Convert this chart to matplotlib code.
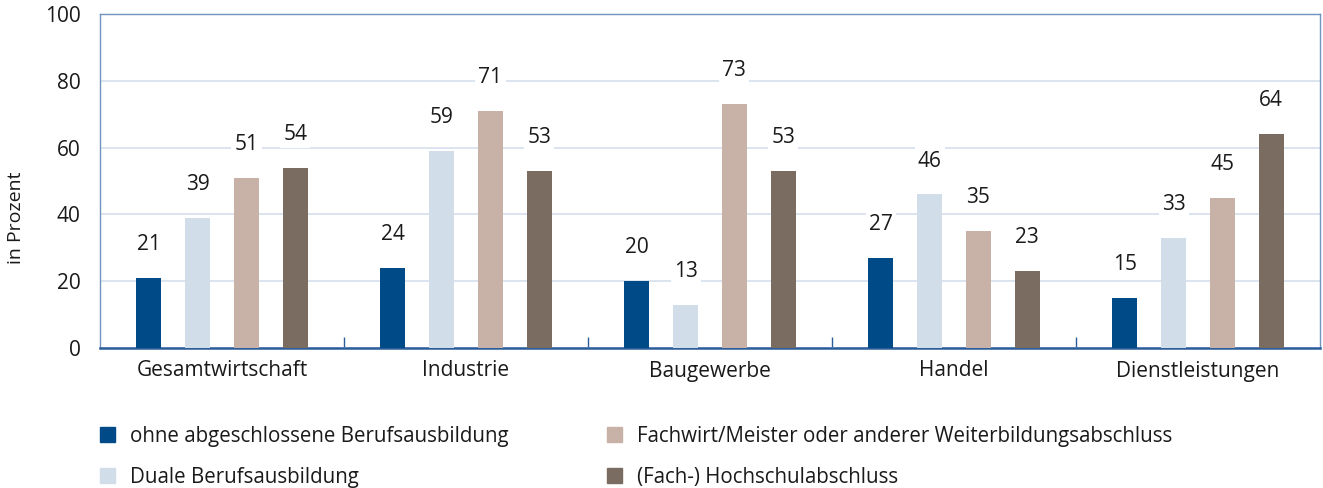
import matplotlib
matplotlib.use("Agg")
import numpy as np
import matplotlib.pyplot as plt
from matplotlib.patches import Patch

# Daten / data
categories = ["Gesamtwirtschaft", "Industrie", "Baugewerbe", "Handel", "Dienstleistungen"]
series_names = [
    "ohne abgeschlossene Berufsausbildung",
    "Duale Berufsausbildung",
    "Fachwirt/Meister oder anderer Weiterbildungsabschluss",
    "(Fach-) Hochschulabschluss",
]
ohne = [21, 24, 20, 27, 15]
dual = [39, 59, 13, 46, 33]
fachwirt = [51, 71, 73, 35, 45]
hochschule = [54, 53, 53, 23, 64]
colors = ["#004b87", "#d1dde8", "#c8b1a6", "#7b6c62"]

plt.rcParams["font.family"] = ["Open Sans", "DejaVu Sans"]

fig = plt.figure(figsize=(13.23, 4.88), dpi=100)
ax = fig.add_axes([100 / 1323, 1 - 348 / 488, 1220 / 1323, 334 / 488])

x = np.arange(len(categories))
width = 0.1025
offsets = [-0.3, -0.1, 0.1, 0.3]
all_series = [ohne, dual, fachwirt, hochschule]

for vals, off, col in zip(all_series, offsets, colors):
    bars = ax.bar(x + off, vals, width, color=col, zorder=3)
    for b, v in zip(bars, vals):
        ax.annotate(str(v), (b.get_x() + b.get_width() / 2, v),
                    xytext=(0, 24), textcoords="offset points",
                    ha="center", va="center", fontsize=15, color="#1a1a1a",
                    bbox=dict(boxstyle="square,pad=0.15", fc="white", ec="none"),
                    zorder=4)

ax.set_xlim(-0.5, len(categories) - 0.5)
ax.set_ylim(0, 100)
ax.set_yticks([0, 20, 40, 60, 80, 100])
ax.yaxis.grid(True, color="#d6e0ec", linewidth=1.2, zorder=0)
ax.set_axisbelow(True)

ax.set_xticks(x)
ax.set_xticklabels(categories, fontsize=15, color="#1a1a1a")
ax.set_xticks(np.arange(0.5, len(categories) - 0.5, 1), minor=True)
ax.tick_params(axis="x", which="major", length=0, pad=9)
ax.tick_params(axis="x", which="minor", direction="in", length=8, color="#2b5d9b", width=1)
ax.tick_params(axis="y", length=0, pad=14, labelsize=15, labelcolor="#1a1a1a")

for s in ["left", "top", "right"]:
    ax.spines[s].set_color("#6f93bd")
    ax.spines[s].set_linewidth(1)
ax.spines["bottom"].set_color("#2b5d9b")
ax.spines["bottom"].set_linewidth(1.8)

ax.set_ylabel("in Prozent", fontsize=14, color="#1a1a1a")
ax.yaxis.set_label_coords(-0.0615, 0.39)

handles = [Patch(color=c, label=n) for c, n in zip(colors, series_names)]
leg_kw = dict(frameon=False, fontsize=14.8, handlelength=0.72, handleheight=0.72,
              handletextpad=0.75, labelspacing=0.95, borderpad=0, borderaxespad=0,
              loc="upper left", labelcolor="#1a1a1a")
fig.legend(handles[:2], series_names[:2], bbox_to_anchor=(100 / 1323, 1 - 426 / 488), **leg_kw)
fig.legend(handles[2:], series_names[2:], bbox_to_anchor=(607 / 1323, 1 - 426 / 488), **leg_kw)

fig.savefig("out.png", dpi=100)
